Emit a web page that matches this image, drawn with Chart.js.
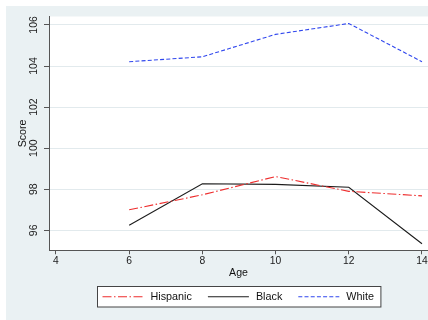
<!DOCTYPE html>
<html><head><meta charset="utf-8">
<script src="https://cdn.jsdelivr.net/npm/chart.js@4.4.1/dist/chart.umd.min.js"></script>
<style>html,body{margin:0;padding:0;background:#fff;}#wrap{width:428px;height:320px;position:relative;}</style>
</head><body><div id="wrap"><canvas id="c"></canvas></div>
<script>
const ages = [6, 8, 10, 12, 14];
const hispanic = [97.0, 97.73, 98.62, 97.9, 97.68];
const black = [96.25, 98.27, 98.24, 98.1, 95.35];
const white = [104.21, 104.45, 105.54, 106.07, 104.21];
const xTicks = [4, 6, 8, 10, 12, 14];
const yTicks = [96, 98, 100, 102, 104, 106];
const seriesNames = ['Hispanic', 'Black', 'White'];
const xTitle = 'Age';
const yTitle = 'Score';

const FONT = "'Liberation Sans', Arial, Helvetica, sans-serif";
const PANEL = '#eaf1f3';
const GRID = '#e2eaed';
const AXIS = '#555555';

const toPts = arr => ages.map((a, i) => ({x: a, y: arr[i]}));

const bgPlugin = {
  id: 'bg',
  beforeDraw(chart) {
    const {ctx, width, height, chartArea: a} = chart;
    ctx.save();
    ctx.fillStyle = '#ffffff';
    ctx.fillRect(0, 0, width, height);
    ctx.fillStyle = PANEL;
    ctx.fillRect(6, 6, width - 6, height - 6);
    ctx.fillStyle = '#ffffff';
    ctx.fillRect(a.left, a.top, a.right - a.left, a.bottom - a.top);
    ctx.restore();
  }
};

const legendPlugin = {
  id: 'boxLegend',
  afterDraw(chart) {
    const {ctx, chartArea: a} = chart;
    const sample = 41, gapText = 7, gapItem = 16, padL = 5, padR = 7;
    ctx.save();
    ctx.font = '10.8px ' + FONT;
    const ds = chart.data.datasets;
    let total = padL + padR;
    ds.forEach((d, i) => {
      total += sample + gapText + ctx.measureText(d.label).width;
      if (i < ds.length - 1) total += gapItem;
    });
    const cx = (a.left + a.right) / 2;
    const left = Math.round(cx - total / 2) + 0.5;
    const top = 286.5, h = 20.5, cy = top + h / 2;
    ctx.fillStyle = '#ffffff';
    ctx.fillRect(left, top, total, h);
    ctx.strokeStyle = '#444444';
    ctx.lineWidth = 1;
    ctx.strokeRect(left, top, total, h);
    let x = left + padL;
    ds.forEach((d, i) => {
      ctx.beginPath();
      ctx.setLineDash(d.borderDash || []);
      ctx.strokeStyle = d.borderColor;
      ctx.lineWidth = d.borderWidth;
      ctx.moveTo(x, cy);
      ctx.lineTo(x + sample, cy);
      ctx.stroke();
      ctx.setLineDash([]);
      x += sample + gapText;
      ctx.fillStyle = '#111111';
      ctx.textBaseline = 'middle';
      ctx.textAlign = 'left';
      ctx.fillText(d.label, x, cy + 0.5);
      x += ctx.measureText(d.label).width + gapItem;
    });
    ctx.restore();
  }
};

new Chart(document.getElementById('c'), {
  type: 'line',
  data: {
    datasets: [
      {label: seriesNames[0], data: toPts(hispanic), borderColor: '#ee2e2e', borderWidth: 1.1, borderDash: [9, 2.5, 1.5, 2.5], pointRadius: 0, tension: 0, fill: false},
      {label: seriesNames[1], data: toPts(black), borderColor: '#1c1c1c', borderWidth: 1.1, pointRadius: 0, tension: 0, fill: false},
      {label: seriesNames[2], data: toPts(white), borderColor: '#3047ee', borderWidth: 1.1, borderDash: [4, 2.2], pointRadius: 0, tension: 0, fill: false}
    ]
  },
  options: {
    responsive: true,
    maintainAspectRatio: false,
    animation: false,
    layout: {padding: {left: 0, right: 0, top: 16.5, bottom: 0}},
    plugins: {legend: {display: false}, tooltip: {enabled: false}},
    scales: {
      x: {
        type: 'linear',
        min: 3.81, max: 14.164,
        afterBuildTicks: s => { s.ticks = xTicks.map(v => ({value: v})); },
        afterFit: s => { s.height = 69.7; s.paddingLeft = 0; s.paddingRight = 0; },
        grid: {display: true, drawOnChartArea: false, drawTicks: true, tickLength: 4, tickColor: AXIS, tickWidth: 1},
        border: {display: true, color: AXIS, width: 1},
        ticks: {font: {family: FONT, size: 10.3}, color: '#1a1a1a', padding: 1, maxRotation: 0, autoSkip: false},
        title: {display: true, text: xTitle, font: {family: FONT, size: 10.6}, color: '#111111', padding: {top: 0, bottom: 40.5}}
      },
      y: {
        type: 'linear',
        min: 95.03, max: 106.41,
        afterBuildTicks: s => { s.ticks = yTicks.map(v => ({value: v})); },
        afterFit: s => { s.width = 49; s.paddingTop = 0; s.paddingBottom = 0; },
        grid: {display: true, drawOnChartArea: true, color: GRID, lineWidth: 1, drawTicks: true, tickLength: 5, tickColor: AXIS, tickWidth: 1},
        border: {display: true, color: AXIS, width: 1},
        ticks: {font: {family: FONT, size: 10.5}, color: '#1a1a1a', padding: 1.2, minRotation: 90, maxRotation: 90, crossAlign: 'center', autoSkip: false},
        title: {display: true, text: yTitle, font: {family: FONT, size: 10.7}, color: '#111111', padding: {top: 16.5, bottom: 0}}
      }
    }
  },
  plugins: [bgPlugin, legendPlugin]
});
</script>
</body></html>
